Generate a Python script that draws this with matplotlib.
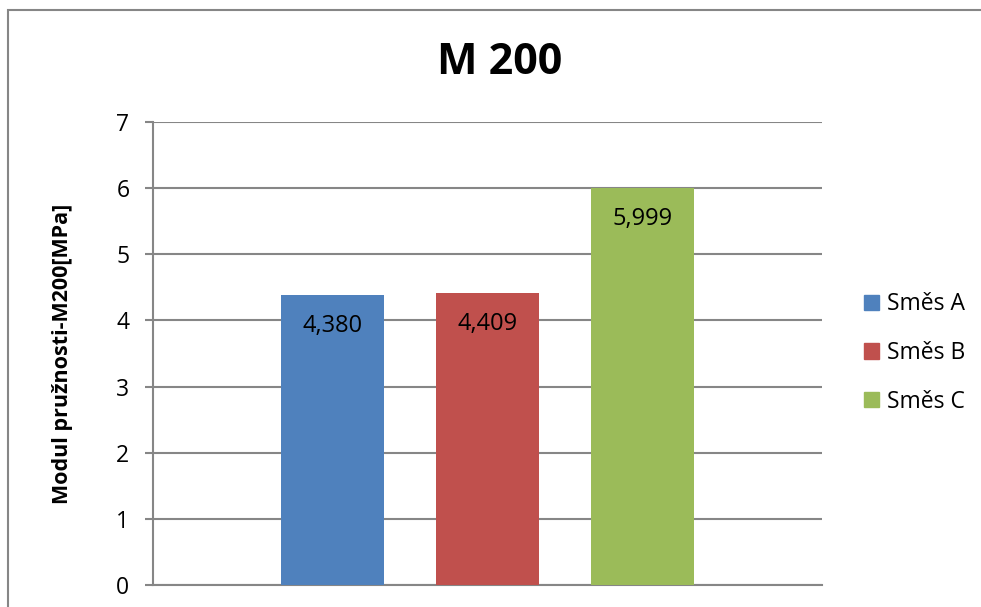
import matplotlib.pyplot as plt
from matplotlib.patches import Rectangle, Patch

plt.rcParams['font.family'] = ['Open Sans', 'DejaVu Sans']

# data
series = ['Směs A', 'Směs B', 'Směs C']
values = [4.380, 4.409, 5.999]
labels = ['4,380', '4,409', '5,999']
colors = ['#4F81BD', '#C0504D', '#9BBB59']
yticks = [0, 1, 2, 3, 4, 5, 6, 7]

fig = plt.figure(figsize=(9.81, 6.07), dpi=100)
ax = fig.add_axes([153/981, 22/607, 669/981, 463/607])

# chart area border
fig.patches.append(Rectangle((8/981, -0.1), 1.0, 1.1 - 10/607,
                             transform=fig.transFigure, fill=False,
                             edgecolor='#868686', lw=1.5))

pos = [0.268, 0.5, 0.732]
width = 0.154
bars = ax.bar(pos, values, width=width, color=colors, zorder=3)
for b, lab in zip(bars, labels):
    ax.annotate(lab, (b.get_x() + b.get_width()/2, b.get_height()),
                xytext=(0, -22), textcoords='offset points',
                ha='center', va='center', fontsize=17, zorder=4)

ax.set_xlim(0, 1)
ax.set_ylim(0, 7)
ax.set_yticks(yticks)
ax.set_xticks([])
ax.yaxis.grid(True, color='#868686', lw=1.5, zorder=0)
ax.tick_params(axis='y', labelsize=16.5, length=6, width=1.5,
               color='#868686', pad=11)
for s in ['top', 'right']:
    ax.spines[s].set_visible(False)
for s in ['left', 'bottom']:
    ax.spines[s].set_color('#868686')
    ax.spines[s].set_linewidth(1.5)

ax.set_ylabel('Modul pružnosti-M200[MPa]', fontsize=15.5, fontweight='bold',
              labelpad=31)
fig.text(500/981, 1 - 62/607, 'M 200', fontsize=31, fontweight='bold',
         ha='center', va='center')

handles = [Patch(color=c) for c in colors]
fig.legend(handles, series, loc='center left',
           bbox_to_anchor=(843/981, 1 - 353/607), frameon=False,
           fontsize=16.5, handlelength=0.65, handleheight=0.65,
           handletextpad=0.35, labelspacing=1.08)

fig.savefig('out.png', dpi=100)
